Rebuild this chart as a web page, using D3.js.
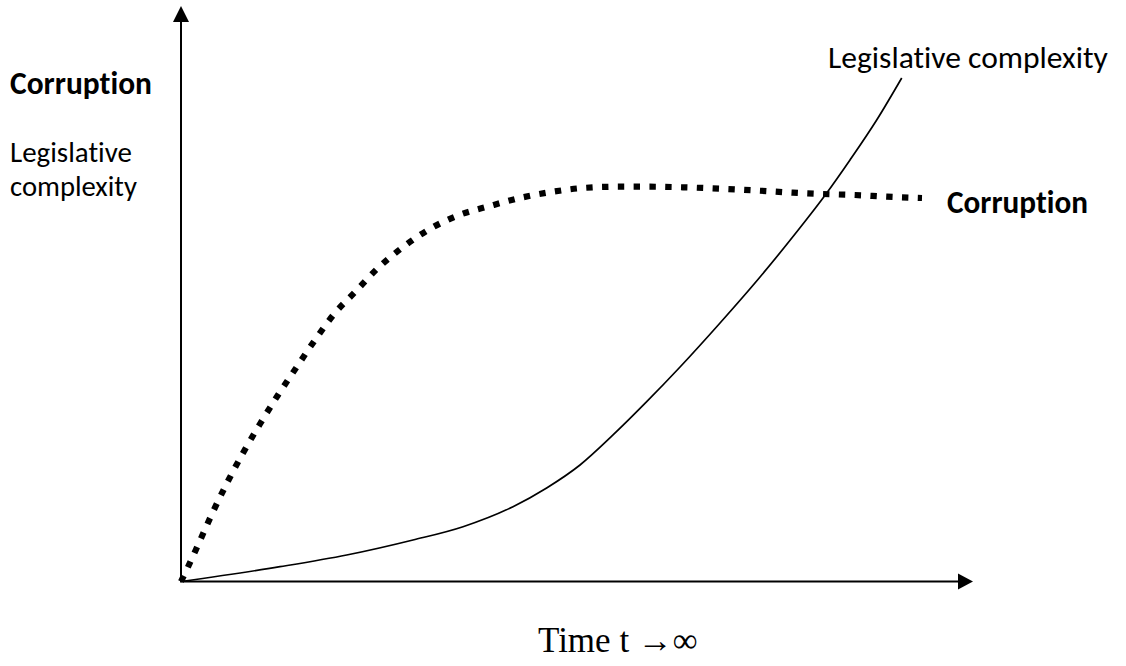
<!DOCTYPE html>
<html>
<head>
<meta charset="utf-8">
<script src="https://cdn.jsdelivr.net/npm/d3@7"></script>
<style>
  html, body { margin: 0; padding: 0; background: #fff; }
  svg { display: block; }
  text { font-variant-ligatures: none; font-feature-settings: "liga" 0, "clig" 0; }
</style>
</head>
<body>
<svg id="chart" width="1126" height="666"></svg>
<script>
// ---- data (arbitrary units 0..100 on both axes) ----
const corruptionT = [0, 0.88, 2.15, 3.91, 5.81, 7.83, 9.97, 12.25, 14.61, 16.92, 19.44, 21.97, 24.87, 27.87, 31.19, 34.97, 39.02, 42.80, 46.97, 50.76, 55.05, 59.22, 63.38, 68.94, 73.11, 77.27, 81.06, 85.10, 89.14, 93.56];
const corruptionV = [0, 2.52, 6.34, 11.73, 17.12, 22.33, 27.37, 32.41, 37.27, 41.97, 46.66, 50.30, 54.47, 57.95, 61.08, 63.60, 65.25, 66.64, 67.73, 68.38, 68.60, 68.60, 68.50, 68.20, 67.91, 67.56, 67.33, 67.16, 66.86, 66.64];
const legislationT = [0, 12.50, 20.92, 29.29, 35.61, 41.92, 46.17, 50.38, 54.55, 58.80, 63.01, 68.06, 73.11, 77.53, 81.44, 84.47, 87.84, 91.00];
const legislationV = [0, 2.57, 4.60, 7.21, 9.52, 13.00, 16.25, 20.24, 25.46, 31.24, 37.27, 44.92, 52.91, 60.38, 67.33, 73.24, 80.19, 87.49];
const seriesNames = ["Corruption", "Legislative complexity"];
const yAxisLabels = ["Corruption", "Legislative", "complexity"];
const xAxisLabel = "Time t \u2192\u221E";

// ---- layout ----
const svg = d3.select("#chart");
const x = d3.scaleLinear().domain([0, 100]).range([181, 973]);
const y = d3.scaleLinear().domain([0, 100]).range([581.5, 6]);
const sans = "Carlito, Lato, 'Open Sans', sans-serif";

// axes with arrowheads
const x0 = x(0), y0 = y(0);
svg.append("line").attr("x1", x0).attr("y1", y0 + 0.5).attr("x2", x0).attr("y2", y(100) + 15)
  .attr("stroke", "#000").attr("stroke-width", 2);
svg.append("path")
  .attr("d", `M${x0},${y(100)} L${x0 - 8},${y(100) + 16} L${x0 + 8},${y(100) + 16} Z`)
  .attr("fill", "#000");
svg.append("line").attr("x1", x0 - 1).attr("y1", y0).attr("x2", x(100) - 14).attr("y2", y0)
  .attr("stroke", "#000").attr("stroke-width", 2);
svg.append("path")
  .attr("d", `M${x(100)},${y0} L${x(100) - 15},${y0 - 8} L${x(100) - 15},${y0 + 8} Z`)
  .attr("fill", "#000");

// series
const line = d3.line().x(d => x(d[0])).y(d => y(d[1])).curve(d3.curveMonotoneX);
const corr = d3.zip(corruptionT, corruptionV);
const legi = d3.zip(legislationT, legislationV);

svg.append("path").datum(legi).attr("d", line)
  .attr("fill", "none").attr("stroke", "#000").attr("stroke-width", 1.7);
svg.append("path").datum(corr).attr("d", line)
  .attr("fill", "none").attr("stroke", "#000").attr("stroke-width", 6.2)
  .attr("stroke-dasharray", "6.4,9.4");

// labels, each fitted to the width it has in the reference
function label(text, px, py, width, weight) {
  const t = svg.append("text").attr("x", px).attr("y", py)
    .attr("font-family", sans).attr("font-weight", weight)
    .attr("font-size", 100).attr("fill", "#000").text(text);
  const w = t.node().getComputedTextLength();
  t.attr("font-size", 100 * width / w);
  return t;
}
label(yAxisLabels[0], 10, 94, 142, "bold");
label(yAxisLabels[1], 10, 162, 122, "normal");
label(yAxisLabels[2], 10, 196, 127, "normal");
label(seriesNames[1], 828, 68, 280, "normal");
label(seriesNames[0], 947, 213, 141, "bold");

svg.append("text").attr("x", 538).attr("y", 652)
  .attr("font-family", "'Liberation Serif', 'Times New Roman', serif")
  .attr("font-size", 35).attr("fill", "#000").text(xAxisLabel);
</script>
</body>
</html>
